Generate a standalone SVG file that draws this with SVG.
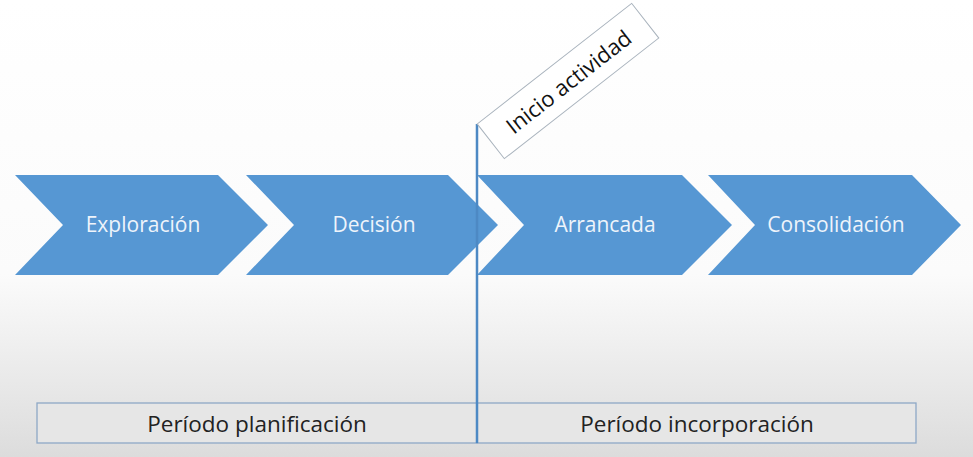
<svg xmlns="http://www.w3.org/2000/svg" width="973" height="457" viewBox="0 0 973 457">
<defs>
<linearGradient id="bg" x1="0" y1="0" x2="0" y2="457" gradientUnits="userSpaceOnUse">
<stop offset="0" stop-color="#ffffff"/>
<stop offset="0.6" stop-color="#fbfbfb"/>
<stop offset="1" stop-color="#dcdcdc"/>
</linearGradient>
</defs>
<style>
.chev{fill:#5697d3;}
.ct{font-family:"Open Sans","Noto Sans",sans-serif;font-size:21px;fill:#eef4fb;text-anchor:middle;dominant-baseline:central;}
.per{fill:#e6e6e6;stroke:#8ea8c6;stroke-width:1.3;}
.pt{font-family:"Open Sans","Noto Sans",sans-serif;font-size:22.5px;fill:#222;text-anchor:middle;dominant-baseline:central;}
.tag{fill:#ffffff;stroke:#a9b3bd;stroke-width:1;}
.tt{font-family:"Open Sans","Noto Sans",sans-serif;font-size:22px;fill:#111;text-anchor:middle;dominant-baseline:central;}
.vl{stroke:#4d89c4;stroke-width:2.5;fill:none;}
</style>
<rect x="0" y="0" width="973" height="457" fill="url(#bg)"/>
<g id="exploracion">
<polygon class="chev" points="15,175 218,175 268,225 218,275 15,275 63,225"/>
<text class="ct" x="143" y="224">Exploración</text>
</g>
<g id="decision">
<polygon class="chev" points="246,175 448,175 498,225 448,275 246,275 294,225"/>
<text class="ct" x="374" y="224">Decisión</text>
</g>
<g id="arrancada">
<polygon class="chev" points="477,175 682,175 732,225 682,275 477,275 524,225"/>
<text class="ct" x="605" y="224">Arrancada</text>
</g>
<g id="consolidacion">
<polygon class="chev" points="708,175 912,175 961,225 912,275 708,275 755,225"/>
<text class="ct" x="836" y="224">Consolidación</text>
</g>
<g id="periodo-planificacion">
<rect class="per" x="37" y="403" width="440" height="40"/>
<text class="pt" x="257" y="423">Período planificación</text>
</g>
<g id="periodo-incorporacion">
<rect class="per" x="477" y="403" width="439" height="40"/>
<text class="pt" x="697" y="423">Período incorporación</text>
</g>
<g id="connectors">
<line class="vl" x1="477" y1="124" x2="477" y2="443"/>
</g>
<g id="inicio-actividad">
<g transform="translate(568,81) rotate(-38)">
<rect class="tag" x="-98" y="-22" width="196" height="44"/>
<text class="tt" x="0" y="0">Inicio actividad</text>
</g>
</g>
</svg>
